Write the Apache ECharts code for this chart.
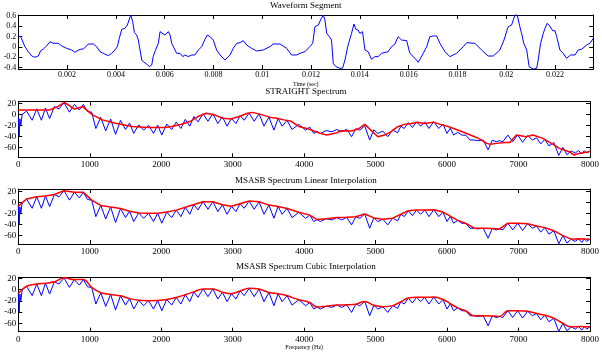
<!DOCTYPE html>
<html><head><meta charset="utf-8">
<script src="https://cdn.jsdelivr.net/npm/echarts@6/dist/echarts.min.js"></script>
<style>html,body{margin:0;padding:0;background:#fff}#c{width:602px;height:352px}</style>
</head><body><div id="c"></div>
<script>
// ---------- data ----------
// waveform: [time in ms, amplitude]
const waveSamples = [
[0.00,0.209],[0.10,0.196],[0.27,0.004],[0.41,-0.092],[0.55,-0.176],[0.68,-0.201],[0.73,-0.227],[0.82,-0.176],[0.92,-0.073],[1.03,-0.041],
[1.16,0.017],[1.30,0.100],[1.44,0.068],[1.64,0.068],[1.78,0.017],[1.98,-0.028],[2.19,-0.060],[2.32,-0.105],[2.53,-0.047],[2.67,-0.041],
[2.87,0.055],[3.08,0.055],[3.21,0.004],[3.35,-0.092],[3.48,-0.124],[3.69,-0.169],[3.83,-0.124],[3.96,-0.060],[4.06,0.004],[4.14,0.164],
[4.24,0.337],[4.37,0.356],[4.47,0.420],[4.61,0.613],[4.69,0.485],[4.76,0.273],[4.85,0.228],[4.92,0.132],[4.99,-0.060],[5.06,-0.253],
[5.15,-0.297],[5.26,-0.329],[5.37,-0.381],[5.47,-0.349],[5.53,-0.188],[5.60,-0.092],[5.67,-0.060],[5.74,0.068],[5.81,0.292],[5.88,0.305],
[6.01,0.228],[6.15,0.292],[6.22,0.228],[6.29,0.068],[6.35,0.036],[6.49,-0.124],[6.63,-0.124],[6.74,-0.188],[6.83,-0.156],[6.97,-0.188],
[7.11,-0.156],[7.24,-0.156],[7.38,-0.060],[7.52,0.004],[7.65,0.145],[7.75,0.228],[7.86,0.196],[7.99,0.132],[8.13,-0.060],[8.27,-0.156],
[8.47,-0.253],[8.68,-0.156],[8.81,-0.028],[8.95,0.068],[9.09,0.081],[9.22,0.119],[9.36,0.036],[9.56,-0.028],[9.77,-0.079],[10.04,-0.060],
[10.32,0.004],[10.45,0.055],[10.73,0.055],[11.00,-0.028],[11.20,-0.156],[11.41,-0.156],[11.55,-0.124],[11.75,-0.092],[11.95,0.004],[12.07,0.068],
[12.16,0.388],[12.30,0.420],[12.39,0.517],[12.50,0.613],[12.57,0.517],[12.64,0.260],[12.75,0.196],[12.84,0.132],[12.91,-0.317],[13.02,-0.381],
[13.18,-0.413],[13.29,-0.413],[13.39,-0.253],[13.52,0.036],[13.66,0.260],[13.76,0.440],[13.84,0.337],[13.93,0.324],[14.00,0.260],[14.11,0.292],
[14.21,-0.060],[14.34,-0.092],[14.48,-0.240],[14.62,-0.188],[14.75,-0.188],[14.89,-0.124],[15.16,-0.092],[15.30,0.004],[15.44,0.055],[15.57,0.196],
[15.71,0.132],[15.92,0.119],[16.05,-0.124],[16.26,-0.220],[16.39,-0.297],[16.60,-0.124],[16.74,0.004],[16.87,0.196],[17.01,0.209],[17.15,0.209],
[17.28,0.068],[17.49,-0.092],[17.69,-0.188],[17.97,-0.124],[18.24,0.004],[18.38,0.081],[18.72,0.068],[18.99,-0.060],[19.26,-0.176],[19.47,-0.176],
[19.74,-0.060],[19.91,0.132],[20.08,0.388],[20.22,0.420],[20.36,0.613],[20.45,0.613],[20.56,0.388],[20.63,0.260],[20.72,0.068],[20.84,-0.060],
[20.94,-0.381],[21.11,-0.426],[21.25,-0.413],[21.31,-0.253],[21.41,0.068],[21.52,0.260],[21.59,0.356],[21.68,0.453],[21.79,0.400],[21.90,0.312],
[22.00,0.312],[22.07,0.196],[22.20,-0.060],[22.34,-0.124],[22.47,-0.220],[22.64,-0.156],[22.82,-0.156],[22.95,-0.060],[23.09,-0.047],[23.30,0.036],
[23.43,0.068],[23.57,0.164]
];

// original spectrum (blue): low-frequency start, harmonic peaks and the dips between them [Hz, dB]
const spectrumStart = [[0,-5],[12,-40],[22,-8],[35,-20],[55,0]];
const harmonicPeaks = [
[115,6],[258,10],[380,11.5],[505,14],[640,21],[785,18],[910,18],[1027,4],[1154,-5.5],[1292,-8.5],
[1430,-11],[1557,-16],[1685,-19],[1823,-19.7],[1950,-19.5],[2077,-17.5],[2210,-14],[2337,-9],[2457,-4],[2585,1.2],
[2723,1.2],[2857,-4.5],[2983,-7.2],[3103,-2.5],[3230,2.4],[3369,1],[3507,-5],[3635,-7.5],[3761,-11],[3925,-18],
[4078,-23],[4181,-31],[4308,-29.5],[4457,-27.5],[4595,-27],[4722,-26],[4848,-21],[4975,-28],[5101,-30.4],[5239,-28.5],
[5354,-21.5],[5458,-15],[5572,-13.7],[5688,-13.7],[5815,-13.2],[5942,-17.5],[6045,-25],[6149,-32.5],[6264,-38],[6379,-46.6],
[6505,-46.6],[6632,-47],[6735,-47.8],[6850,-37.6],[6988,-37.6],[7126,-38.5],[7253,-42.5],[7368,-45.5],[7494,-51],[7620,-60],
[7736,-66.3],[7839,-65.7],[7920,-66],[8000,-66.3]
];
const harmonicDips = [
[194,-10.7],[323,-10.7],[438,-7.8],[570,10],[715,4],[854,8],[969,5],[1085,-25.7],[1223,-29.9],[1361,-36.4],
[1500,-27.5],[1615,-34.6],[1754,-28.7],[1892,-34.6],[2008,-37.6],[2146,-27.5],[2275,-25.7],[2400,-21.5],[2515,-13.7],[2654,-12.5],
[2792,-16.7],[2921,-21.5],[3046,-16.7],[3161,-10.7],[3300,-12.5],[3438,-21.5],[3577,-28.7],[3692,-21.5],[3831,-27.5],[4020,-28.7],
[4135,-34.6],[4227,-34.6],[4388,-31.6],[4526,-31.6],[4664,-40.6],[4779,-28.7],[4917,-46.6],[5032,-34.6],[5170,-40.6],[5308,-33.4],
[5400,-25.7],[5515,-23.9],[5630,-21.5],[5746,-25.7],[5884,-25.7],[5999,-34.6],[6091,-37.6],[6206,-37.6],[6321,-46.6],[6436,-47.8],
[6574,-64.5],[6689,-49.6],[6781,-49.6],[6919,-49.6],[7057,-50.7],[7195,-46.6],[7310,-53.7],[7425,-57.3],[7563,-74.6],[7678,-73.4],
[7793,-70.4],[7885,-72.2],[7954,-70.4]
];
// STRAIGHT smoothed envelope (red, plot 2)
const straightEnvelope = [
[0,7.9],[438,7.9],[550,14],[646,21.8],[785,9.7],[900,14],[1038,-1],[1177,-10],[1361,-16],[1592,-22],
[1823,-24],[2053,-24],[2146,-22],[2284,-18],[2400,-13],[2515,-4],[2630,2],[2746,-1],[2861,-7],[2976,-8.5],
[3092,-4],[3207,2],[3276,3.6],[3392,0],[3530,-5.5],[3622,-7],[3715,-10],[3807,-12],[3925,-22],[4063,-26.7],
[4225,-34.5],[4317,-37.6],[4432,-34.5],[4525,-29.7],[4663,-30.3],[4755,-26.7],[4848,-18.2],[5032,-40.6],[5125,-37.6],[5217,-31.5],
[5309,-22.4],[5401,-18.2],[5494,-16.4],[5586,-14.5],[5678,-16.4],[5817,-14.5],[5909,-18.2],[6025,-22.4],[6186,-30.3],[6325,-37.6],
[6440,-43.6],[6555,-52.7],[6601,-54.5],[6694,-52.7],[6809,-50.9],[6878,-50.9],[6971,-37.6],[7109,-40.6],[7201,-37.6],[7340,-43.6],
[7501,-55.8],[7571,-61.8],[7709,-67.9],[7778,-73.9],[7847,-70.9],[7986,-67.9]
];
// start value of the interpolated MSASB envelopes
const envelopeStart = [[0,-7]];

// axis ranges / ticks
const timeRange = [0, 0.02357], timeStep = 0.002;
const ampRange = [-0.426, 0.613];
const freqRange = [0, 8000], freqStep = 1000;
const dbRanges = [[-78, 23], [-75, 24], [-75, 22]];
const titles = ['Waveform Segment', 'STRAIGHT Spectrum', 'MSASB Spectrum Linear Interpolation', 'MSASB Spectrum Cubic Interpolation'];

// ---------- build ----------
const FONT = '"Liberation Serif", "Times New Roman", serif';
const waveData = waveSamples.map(p => [p[0] / 1000, p[1]]);
const blueData = spectrumStart.concat(harmonicPeaks, harmonicDips).sort((a, b) => a[0] - b[0]);
const envelopeData = envelopeStart.concat(harmonicPeaks);

const grids = [
  {left: 18.3, right: 8.7, top: 15, height: 54},
  {left: 18.3, right: 8.7, top: 101.7, height: 55.6},
  {left: 18.3, right: 8.7, top: 189, height: 55},
  {left: 18.3, right: 8.7, top: 277.3, height: 54.4}
];

const lineCfg = {show: true, onZero: false, lineStyle: {color: '#000', width: 1}};
const tickCfg = {show: true, inside: true, length: 4, lineStyle: {color: '#000', width: 1}};
const lbl = (extra) => Object.assign({color: '#000', fontFamily: FONT, fontSize: 9}, extra);

function xPair(gi, min, max, interval, labelExtra, nameCfg) {
  const base = {type: 'value', gridIndex: gi, min, max, interval, axisLine: lineCfg, axisTick: tickCfg, splitLine: {show: false}};
  return [
    Object.assign({}, base, {position: 'bottom', axisLabel: lbl(labelExtra)}, nameCfg || {}),
    Object.assign({}, base, {position: 'top', axisLabel: {show: false}})
  ];
}
function yPair(gi, min, max, labelExtra) {
  const base = {type: 'value', gridIndex: gi, min, max, splitNumber: 5, axisLine: lineCfg, axisTick: tickCfg, splitLine: {show: false}};
  return [
    Object.assign({}, base, {position: 'left', axisLabel: lbl(labelExtra)}),
    Object.assign({}, base, {position: 'right', axisLabel: {show: false}})
  ];
}
const isMult = (v, s) => Math.abs(v / s - Math.round(v / s)) < 1e-6;
const freqFmt = v => isMult(v, freqStep) ? String(Math.round(v)) : '';

const xAxes = [].concat(
  xPair(0, timeRange[0], timeRange[1], timeStep,
    {fontSize: 8, margin: 2, formatter: v => (v === 0 || !isMult(v, timeStep)) ? '' : String(+v.toFixed(4))},
    {name: 'Time (sec)', nameLocation: 'middle', nameGap: 12, nameTextStyle: {fontFamily: FONT, fontSize: 6, color: '#000'}}),
  xPair(1, freqRange[0], freqRange[1], freqStep, {margin: 3, formatter: freqFmt}),
  xPair(2, freqRange[0], freqRange[1], freqStep, {margin: 3, formatter: freqFmt}),
  xPair(3, freqRange[0], freqRange[1], freqStep, {margin: 3, formatter: freqFmt},
    {name: 'Frequency (Hz)', nameLocation: 'middle', nameGap: 11, nameTextStyle: {fontFamily: FONT, fontSize: 6, color: '#000'}})
);
const dbFmt = v => isMult(v, 20) ? String(Math.round(v)) : '';
const yAxes = [].concat(
  yPair(0, ampRange[0], ampRange[1], {fontSize: 8, margin: 2, formatter: v => isMult(v, 0.2) ? String(+v.toFixed(1)) : ''}),
  yPair(1, dbRanges[0][0], dbRanges[0][1], {margin: 2, formatter: dbFmt}),
  yPair(2, dbRanges[1][0], dbRanges[1][1], {margin: 2, formatter: dbFmt}),
  yPair(3, dbRanges[2][0], dbRanges[2][1], {margin: 2, formatter: dbFmt})
);

const line = (idx, data, color, width, smooth) => ({
  type: 'line', xAxisIndex: idx, yAxisIndex: idx, data, showSymbol: false, symbol: 'none',
  smooth: smooth || false, lineStyle: {color, width}, itemStyle: {color}, animation: false, silent: true
});

const titleTops = [1, 87.5, 176, 262.5];
const option = {
  animation: false,
  backgroundColor: '#fff',
  title: titles.map((t, i) => ({
    text: t, left: 305.8, top: titleTops[i], textAlign: 'center', padding: 0,
    textStyle: {fontFamily: FONT, fontSize: 9, fontWeight: 'normal', color: '#000', lineHeight: 9}
  })),
  grid: grids,
  xAxis: xAxes,
  yAxis: yAxes,
  series: [
    line(0, waveData, '#0000ff', 1),
    line(2, blueData, '#0000ff', 1),
    line(2, straightEnvelope, '#ff0000', 1.5),
    line(4, blueData, '#0000ff', 1),
    line(4, envelopeData, '#ff0000', 1.5),
    line(6, blueData, '#0000ff', 1),
    line(6, envelopeData, '#ff0000', 1.5, 0.4)
  ]
};
echarts.init(document.getElementById('c'), null, {renderer: 'canvas'}).setOption(option);
</script>
</body></html>
